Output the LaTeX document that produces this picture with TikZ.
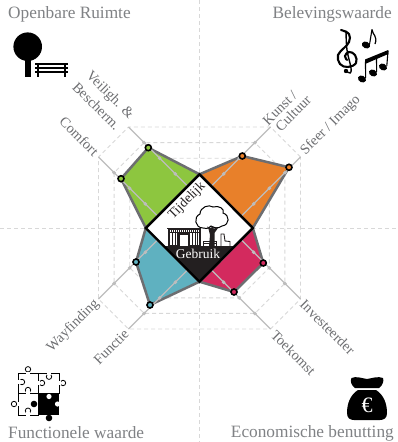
\documentclass[tikz,border=0pt]{standalone}
\usepackage{fontspec}
\usetikzlibrary{calc}
\setmainfont{Liberation Serif}
\definecolor{ttl}{HTML}{808285}
\definecolor{lbl}{HTML}{6D6E71}
\definecolor{gridc}{HTML}{D8D8D8}
\definecolor{spoke}{HTML}{BDBDBD}
\definecolor{polyline}{HTML}{6D6E71}
\definecolor{cgreen}{HTML}{8DC63F}
\definecolor{corange}{HTML}{E8802A}
\definecolor{cred}{HTML}{D32A5E}
\definecolor{cblue}{HTML}{5FB1C0}
\definecolor{ink}{HTML}{231F20}
\tikzset{
  title/.style={font=\fontsize{17.3}{18}\selectfont,text=ttl,inner sep=0pt},
  axlabel/.style={font=\fontsize{14.3}{14}\selectfont,text=lbl,inner sep=0pt},
  griddash/.style={gridc,line width=0.9pt,dash pattern=on 4pt off 3pt},
  spokeline/.style={spoke,line width=1.1pt},
  area/.style={draw=polyline,line width=2.5pt,line join=round},
  dot/.style={circle,draw=black,line width=1.6pt,minimum size=6pt,inner sep=0pt},
}
\begin{document}
\begin{tikzpicture}[x=1pt,y=-1pt]
\useasboundingbox (0,0) rectangle (398,442);
\fill[white] (0,0) rectangle (398,442);
% diamond corners
\coordinate (T) at (199.5,174.3);
\coordinate (L) at (145.8,228);
\coordinate (R) at (252.8,228);
\coordinate (B) at (199.5,281.7);
\coordinate (C) at (199.5,228);
% grid
\draw[griddash] (199.5,0) -- (199.5,442);
\draw[griddash] (0,228) -- (398,228);
\foreach \a in {101,85.4,69.8,54.2}{
  \pgfmathsetmacro{\b}{\a-30}
  \draw[griddash] (199.5+\a,228-\b) -- (199.5+\b,228-\a) -- (199.5-\b,228-\a) -- (199.5-\a,228-\b)
    -- (199.5-\a,228+\b) -- (199.5-\b,228+\a) -- (199.5+\b,228+\a) -- (199.5+\a,228+\b) -- cycle;
}
% value points
\coordinate (gA) at (148.3,147.7);
\coordinate (gB) at (121,178.7);
\coordinate (oA) at (242.3,156);
\coordinate (oB) at (289,167.3);
\coordinate (rA) at (263.3,263);
\coordinate (rB) at (234,292);
\coordinate (bA) at (136,262);
\coordinate (bB) at (150,305);
% areas
\draw[area,fill=cgreen] (T) -- (gA) -- (gB) -- (L) -- cycle;
\draw[area,fill=corange] (T) -- (oA) -- (oB) -- (R) -- cycle;
\draw[area,fill=cred] (R) -- (rA) -- (rB) -- (B) -- cycle;
\draw[area,fill=cblue] (L) -- (bA) -- (bB) -- (B) -- cycle;
% spokes
\foreach \n/\sx/\sy/\sw in {sfeer/1/-1/0,kunst/1/-1/1,veil/-1/-1/1,comf/-1/-1/0,way/-1/1/0,func/-1/1/1,toek/1/1/1,inv/1/1/0}{
  \pgfmathsetmacro{\ex}{\sw==0 ? 101 : 71}
  \pgfmathsetmacro{\ey}{\sw==0 ? 71 : 101}
  \pgfmathsetmacro{\ix}{\sw==0 ? 41.75 : 11.75}
  \pgfmathsetmacro{\iy}{\sw==0 ? 11.75 : 41.75}
  \coordinate (\n end) at (199.5+\sx*\ex,228+\sy*\ey);
  \coordinate (\n in) at (199.5+\sx*\ix,228+\sy*\iy);
  \draw[spokeline] (\n in) -- (\n end);
  \foreach \k in {15.6,31.2,46.8}{
    \fill[spoke] ($(\n end)+(-\sx*\k,-\sy*\k)$) +(2,0) -- +(0,2) -- +(-2,0) -- +(0,-2) -- cycle;
  }
}
% dots
\node[dot,fill=cgreen] (dgA) at (gA) {};
\node[dot,fill=cgreen] (dgB) at (gB) {};
\node[dot,fill=corange] (doA) at (oA) {};
\node[dot,fill=corange] (doB) at (oB) {};
\node[dot,fill=cred] (drA) at (rA) {};
\node[dot,fill=cred] (drB) at (rB) {};
\node[dot,fill=cblue] (dbA) at (bA) {};
\node[dot,fill=cblue] (dbB) at (bB) {};
% central diamond
\fill[white] (T) -- (R) -- (B) -- (L) -- cycle;
\fill[ink] (164,246) -- (235,246) -- (B) -- cycle;
\draw[black,line width=2.4pt,line join=miter] (T) -- (R) -- (B) -- (L) -- cycle;
\node[font=\fontsize{13.5}{14}\selectfont,text=ink,inner sep=0pt,rotate=45] (tij) at (187,201) {Tijdelijk};
\node[font=\fontsize{13.5}{14}\selectfont,text=white,inner sep=0pt] (geb) at (198,254) {Gebruik};
% building
\fill[ink] (167.7,229) rectangle (200.7,246);
\draw[ink,line width=1pt] (167,228) -- (201,228);
\fill[white] (170,233) rectangle (178,245);
\fill[white] (180,235) rectangle (188.3,246);
\fill[white] (190,233) rectangle (198.5,245);
\foreach \x in {172,174.5,176.5,192,194.5,196.5}{\fill[ink] (\x,233) rectangle (\x+0.9,245);}
\foreach \x in {170,172,174,176,178,180,182,184,186,188,190,192,194,196,198}{\fill[white] (\x,230.3) rectangle (\x+0.9,231.8);}
% small tree
\path[draw=black,fill=white,line width=1pt] (203,228) .. controls (195,228) and (193,217) .. (200,214)
  .. controls (200,207) and (209,204) .. (213,207) .. controls (219,205) and (225,209) .. (223,213)
  .. controls (230,215) and (230,225) .. (222,226) .. controls (218,229) and (214,228) .. (211,226)
  .. controls (208,229) and (205,229) .. (203,228) -- cycle;
\fill[ink] (208.5,229) -- (207,226.5) -- (211,228) -- (212,226.5) -- (214,226.5) -- (213.5,229) -- (217,227) -- (218,228) -- (214.5,233) -- (214.5,246) -- (209,246) -- (210,235) -- cycle;
\draw[ink,line width=1pt] (203.5,246) -- (203.5,241) -- (216.5,241) -- (216.5,246);
\draw[ink,line width=0.7pt] (203.5,243) -- (216.5,243);
\draw[ink,line width=0.9pt] (221,246) -- (221,234) -- (224,234) -- (225,241) -- (230,241.5) -- (230,246);
% spoke labels
\node[axlabel,rotate=-45,anchor=west] (l1a) at (88,74) {Veiligh. \&};
\node[axlabel,rotate=-45,anchor=west] (l1b) at (75,84.5) {Bescherm.};
\node[axlabel,rotate=-45,anchor=east] (l2) at (96.5,153.5) {Comfort};
\node[axlabel,rotate=45,anchor=west] (l3a) at (265,123) {Kunst /};
\node[axlabel,rotate=45,anchor=west] (l3b) at (277.5,129) {Cultuur};
\node[axlabel,rotate=45,anchor=west] (l4) at (303,153) {Sfeer / Imago};
\node[axlabel,rotate=-45,anchor=west] (l5) at (302.5,302) {Investeerder};
\node[axlabel,rotate=-45,anchor=west] (l6) at (273.5,332.5) {Toekomst};
\node[axlabel,rotate=45,anchor=east] (l7) at (97,302) {Wayfinding};
\node[axlabel,rotate=45,anchor=east] (l8) at (126.5,331.5) {Functie};
% titles
\node[title,anchor=west] (t1) at (8,14) {Openbare Ruimte};
\node[title,anchor=east] (t2) at (392,14) {Belevingswaarde};
\node[title,anchor=west] (t3) at (8,433) {Functionele waarde};
\node[title,anchor=east] (t4) at (394,433) {Economische benutting};
% park icon
\fill[black] (27.7,46.7) circle[radius=14.3pt];
\fill[black] (25,50) rectangle (30.7,77);
\foreach \y in {64,68,71.7}{\fill[black] (35,\y-0.9) rectangle (67.7,\y+0.9);}
\foreach \x in {37.5,65}{\fill[black] (\x-1,63) rectangle (\x+1,77);}
% music icon
\draw[black,line width=2.1pt,line cap=round] plot[smooth,tension=0.7] coordinates {
 (341,30) (349,34) (349,42) (344,48) (338,55) (340,64) (348,67) (356,63) (355,55) (349,52) (345,56) (347,60)};
\draw[black,line width=1.4pt,line cap=round] plot[smooth,tension=0.6] coordinates {(346,31) (347,50) (351,68) (350,73) (346,71)};
\fill[black] (346,71) circle[radius=2.2pt];
\fill[black,rotate around={-25:(366,45)}] (366,45) ellipse[x radius=4.3pt,y radius=3.3pt];
\draw[black,line width=1.1pt] (369.6,44) -- (372,29.5);
\draw[black,line width=1.2pt] (372,29.5) .. controls (372.5,35) and (378,36) .. (375,44);
\fill[black,rotate around={-25:(362,79)}] (362,79) ellipse[x radius=4.2pt,y radius=3.3pt];
\fill[black,rotate around={-25:(373,73)}] (373,73) ellipse[x radius=4.2pt,y radius=3.3pt];
\fill[black,rotate around={-25:(383,67)}] (383,67) ellipse[x radius=4.2pt,y radius=3.3pt];
\draw[black,line width=1.1pt] (365.6,78) -- (365.5,61.5);
\draw[black,line width=1.1pt] (376.6,72) -- (376.5,56);
\draw[black,line width=1.1pt] (386.8,66) -- (388,51);
\fill[black] (365,59.5) -- (388.3,50) -- (388.3,54) -- (365,64) -- cycle;
% puzzle icon
\tikzset{pz/.style={draw=black,line width=0.8pt,fill=white}}
\draw[pz] (18.3,373) rectangle (38.3,393);
\draw[pz] (38.3,373) rectangle (59.3,393);
\draw[pz] (18.3,393) rectangle (38.3,415);
\foreach \x/\y in {28/369.3,22/382,28/390,49/376.7,42/383,63/383,14/404,28/410.7}{
  \draw[pz] (\x,\y) circle[radius=2.7pt];
}
\fill[white] (25.6,371.5) rectangle (30.4,374);
\fill[white] (18,379.6) rectangle (20.5,384.4);
\fill[white] (25.6,391) rectangle (30.4,394);
\fill[white] (46.6,372) rectangle (51.4,375);
\fill[white] (37.5,380.6) rectangle (40,385.4);
\fill[white] (58,380.6) rectangle (60.5,385.4);
\fill[white] (16.5,401.6) rectangle (19,406.4);
\fill[white] (25.6,412) rectangle (30.4,416);
\fill[black] (38.3,393) rectangle (59.3,415);
\fill[black] (34,404) circle[radius=3.3pt];
\fill[black] (49,418) circle[radius=3.3pt];
\fill[white] (49,396.5) circle[radius=2.6pt];
\fill[white] (57.5,404) circle[radius=2.6pt];
% money bag
\fill[black] (358,390) .. controls (350,395) and (347,404) .. (347,413)
  .. controls (347,418) and (350,420) .. (354,420) -- (380,420)
  .. controls (384,420) and (387,418) .. (387,413) .. controls (387,404) and (384,395) .. (376,390) -- cycle;
\fill[black] (355,388) .. controls (351,385) and (350,381) .. (351.5,378) .. controls (356,376) and (361,378) .. (367,379)
  .. controls (373,378) and (378,376) .. (383,378) .. controls (384,381) and (383,385) .. (379,388) -- cycle;
\node[font=\fontsize{22}{22}\selectfont,text=white,inner sep=0pt] (eur) at (367,405) {€};
\end{tikzpicture}
\end{document}
